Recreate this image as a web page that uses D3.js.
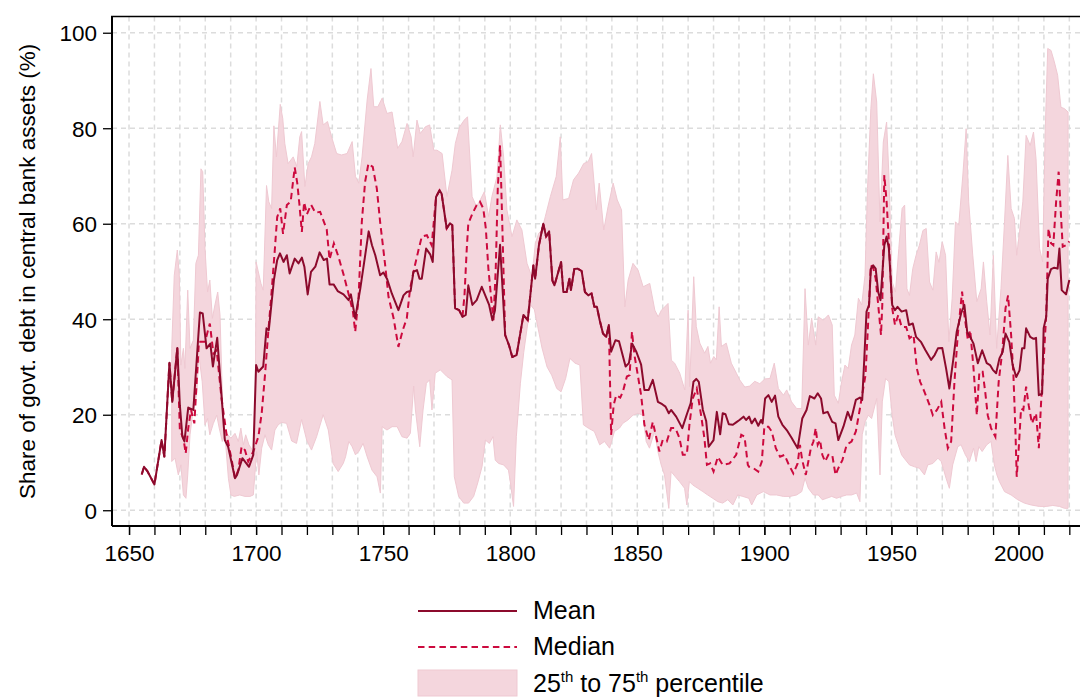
<!DOCTYPE html>
<html><head><meta charset="utf-8">
<script src="https://cdn.jsdelivr.net/npm/d3@7"></script>
<style>body{margin:0;background:#fff}svg{display:block}text{font-family:"Liberation Sans",Arial,sans-serif}</style>
</head><body><svg id="c" width="1080" height="699"></svg>
<script>
const meanData=[[1655,7.5],[1655.9,9.1],[1657.2,8.2],[1660,5.4],[1662.8,14.7],[1663.9,11.2],[1665.9,30.9],[1667,22.7],[1669,34.0],[1670,22.0],[1671,15.4],[1671.8,14.4],[1673.3,21.5],[1675.3,21.0],[1677.9,41.4],[1679,41.2],[1680.5,33.9],[1682,34.9],[1683,30.1],[1684.7,36.1],[1687.7,14.7],[1689,13.3],[1691.7,6.7],[1692.5,7.4],[1694.6,10.9],[1697.2,9.1],[1698.9,11.6],[1700,30.4],[1700.9,29.0],[1702.8,30.1],[1704.1,38.1],[1705,37.7],[1707,48.2],[1708.3,52.4],[1709.4,53.8],[1710.8,52.0],[1712.1,53.4],[1713.2,49.6],[1715.2,52.7],[1716.7,51.7],[1718,52.9],[1719,51.0],[1720.3,45.2],[1721.6,49.9],[1723.3,51.0],[1725,54.0],[1726.6,52.4],[1727.9,52.7],[1728.9,47.3],[1730.5,47.3],[1732.1,45.9],[1734.4,45.2],[1736.4,44.0],[1737.3,45.2],[1739,40.2],[1741,46.4],[1744.3,58.4],[1745.6,55.5],[1746.9,53.4],[1748.8,49.2],[1750.1,49.8],[1751.5,48.5],[1753.4,45.4],[1756,41.9],[1758,45.0],[1759.3,45.7],[1760.8,45.9],[1761.9,49.9],[1763.3,50.3],[1764.3,48.5],[1765.2,48.5],[1766.9,54.8],[1768.5,53.6],[1769.5,52.0],[1770.8,65.6],[1772.2,67.0],[1773,66.3],[1775,59.0],[1776.3,60.1],[1777.2,59.7],[1778.3,42.3],[1779.9,41.9],[1781.2,40.5],[1782.5,40.9],[1783.5,47.1],[1785.1,43.0],[1786.8,44.0],[1788.8,46.8],[1791.7,43.0],[1793,39.8],[1794,41.9],[1796,55.6],[1798,36.7],[1799.5,34.6],[1800.8,32.1],[1802.5,32.5],[1805.2,40.9],[1806.9,39.8],[1809.1,51.3],[1809.8,48.5],[1811.3,55.5],[1813,60.0],[1814.1,57.3],[1815.3,58.4],[1816.6,48.1],[1817.4,47.1],[1818.9,49.9],[1820,52.0],[1820.9,45.7],[1822.2,45.7],[1823.3,48.5],[1823.9,46.1],[1825.2,50.5],[1826.5,50.6],[1828.1,50.1],[1829.4,45.7],[1830.7,45.0],[1832,45.4],[1833.1,42.6],[1834.1,42.6],[1835.2,39.8],[1836.5,37.0],[1837.8,36.3],[1838.8,38.8],[1839.7,33.2],[1841.4,35.6],[1842.8,35.4],[1845.4,30.1],[1846.7,30.8],[1848,34.9],[1849.6,33.2],[1851.5,30.5],[1852.8,25.2],[1854.5,25.2],[1856.1,27.3],[1858.1,22.7],[1859.8,22.2],[1861.1,21.7],[1862.4,20.3],[1863.3,21.0],[1865.3,19.6],[1867.7,17.2],[1869.5,20.1],[1871,22.4],[1872.1,26.9],[1873.2,27.5],[1874.2,26.9],[1875.8,21.0],[1877.1,18.7],[1878.1,13.3],[1880,14.7],[1881.3,20.6],[1882.6,15.9],[1883.6,20.3],[1884.7,20.1],[1886,18.0],[1887.6,17.9],[1888.9,18.4],[1890.2,18.9],[1891.8,19.6],[1892.8,18.9],[1894,19.6],[1895,18.2],[1896.3,19.2],[1897.6,17.7],[1898.7,18.9],[1899.3,18.2],[1900.3,23.4],[1901.6,24.1],[1902.9,22.7],[1904.2,24.0],[1905.5,19.6],[1907.1,17.9],[1908.8,16.8],[1910.7,15.2],[1912,14.0],[1913.1,13.0],[1914.9,19.2],[1916.6,21.0],[1917.9,23.9],[1919.7,23.4],[1921,24.5],[1922.3,23.4],[1923.2,20.3],[1924.9,20.6],[1926.7,18.5],[1928,18.2],[1929.1,14.7],[1931.1,17.5],[1932.8,20.6],[1934.1,18.9],[1936,23.1],[1937.6,23.6],[1938.5,23.1],[1939.3,31.5],[1940.2,41.6],[1941.2,43.0],[1941.9,50.6],[1942.8,51.3],[1943.8,50.6],[1944.8,45.7],[1945.7,44.0],[1947.2,55.5],[1948.1,57.3],[1949,54.8],[1950.3,43.0],[1951.4,41.9],[1952.4,42.6],[1954,41.6],[1955.8,41.9],[1956.9,38.8],[1958.4,39.1],[1959.7,36.3],[1961.7,35.2],[1963.4,33.5],[1965.6,31.5],[1967,32.5],[1968.3,33.9],[1970,34.0],[1971.5,29.7],[1972.8,25.5],[1974.4,31.8],[1975.7,37.4],[1977.4,41.2],[1978.7,43.0],[1979.8,37.4],[1981,36.3],[1982.3,34.9],[1984,30.8],[1985.7,33.5],[1987.5,30.8],[1988.8,30.4],[1989.9,29.4],[1991.2,28.7],[1992.5,31.8],[1993.8,33.2],[1994.9,37.0],[1996.4,35.2],[1997.7,30.4],[1999.1,27.9],[2000.4,29.3],[2001.4,33.9],[2002.3,33.9],[2003,38.1],[2004.6,36.3],[2005.9,35.9],[2006.9,36.1],[2008,24.1],[2009.3,24.4],[2009.9,38.1],[2010.9,40.5],[2011.5,48.5],[2012.8,50.5],[2014.1,50.8],[2015.4,50.6],[2016.1,54.8],[2017,46.1],[2018.7,45.2],[2020,48.2]];

const medianData=[[1655,7.5],[1655.9,9.1],[1657.2,8.2],[1660,5.4],[1662.8,14.7],[1663.9,11.2],[1665.9,30.9],[1667,22.7],[1669,34.0],[1670,16.8],[1671.4,15.1],[1672.3,11.9],[1673.3,17.2],[1674.4,21.0],[1675.7,18.2],[1677,30.4],[1677.5,35.3],[1679.9,35.3],[1681.8,39.1],[1683.2,32.8],[1684.5,33.5],[1686.4,23.4],[1688.4,15.8],[1690.4,10.5],[1691.7,6.7],[1693,8.4],[1694.3,13.3],[1695.6,12.6],[1696.9,10.2],[1698.9,12.3],[1700.9,15.4],[1702.2,20.3],[1703.5,28.3],[1704.8,37.4],[1706.1,45.7],[1707.4,54.8],[1708.3,61.4],[1709.5,63.2],[1710.6,57.9],[1712.1,63.9],[1713.6,64.6],[1715.2,71.8],[1716.2,68.5],[1717,64.3],[1718,58.3],[1718.9,64.5],[1720,62.0],[1721.6,64.0],[1723.3,62.3],[1725.2,62.5],[1727.8,58.8],[1728.9,52.5],[1730.6,55.9],[1732.4,53.1],[1734.4,49.4],[1736.3,45.5],[1738.1,41.6],[1739,37.4],[1740.3,44.4],[1741.6,60.4],[1742.9,68.8],[1744.2,72.6],[1745.9,71.9],[1747.5,67.4],[1748.8,60.4],[1750.8,51.3],[1752.1,44.7],[1754.1,40.2],[1756,34.2],[1757.7,37.7],[1759.3,40.2],[1760.6,46.4],[1762.2,50.6],[1763.9,54.5],[1765.2,57.3],[1767.2,57.6],[1769.1,55.5],[1770.8,65.6],[1772.2,67.0],[1773,66.3],[1775,59.0],[1776.3,60.1],[1777.2,59.7],[1778.3,42.3],[1779.9,41.9],[1781.2,40.5],[1782,45.0],[1782.9,54.8],[1783.5,60.0],[1785.1,62.1],[1786.8,63.9],[1788.1,64.6],[1789.4,63.2],[1790.4,59.0],[1791.4,50.6],[1792.5,44.4],[1793.4,39.8],[1794.3,50.6],[1795.1,67.4],[1796,76.4],[1796.6,65.3],[1797.3,51.3],[1798,36.7],[1799.5,34.6],[1800.8,32.1],[1802.5,32.5],[1805.2,40.9],[1806.9,39.8],[1809.1,51.3],[1809.8,48.5],[1811.3,55.5],[1813,60.0],[1814.1,57.3],[1815.3,58.4],[1816.6,48.1],[1817.4,47.1],[1818.9,49.9],[1820,52.0],[1820.9,45.7],[1822.2,45.7],[1823.3,48.5],[1823.9,46.1],[1825.2,50.5],[1826.5,50.6],[1828.1,50.1],[1829.4,45.7],[1830.7,45.0],[1832,45.4],[1833.1,42.6],[1834.1,42.6],[1835.2,39.8],[1836.5,37.0],[1837.8,36.3],[1838.8,38.8],[1839.7,15.8],[1840.7,22.0],[1841.7,24.1],[1843.3,23.6],[1844.3,24.8],[1845.9,28.0],[1847,28.3],[1847.9,37.4],[1848.9,32.4],[1850.2,28.3],[1851.5,24.1],[1852.8,17.9],[1854.5,14.7],[1856.1,18.5],[1857.4,15.4],[1858.7,12.3],[1860,14.7],[1861.6,14.4],[1863.3,17.2],[1865,17.2],[1866.6,15.1],[1867.9,11.6],[1869.5,11.6],[1870.5,17.9],[1871.8,23.4],[1873.4,25.5],[1875.1,19.9],[1876.4,15.1],[1877.4,9.5],[1878.7,9.8],[1880,8.1],[1881.7,11.2],[1883.6,9.5],[1886.3,9.8],[1888.9,11.6],[1890.9,15.8],[1892.2,15.4],[1893.5,9.5],[1894,9.1],[1895.7,8.8],[1897.6,8.1],[1899,10.2],[1900,17.5],[1901.6,17.5],[1902.9,16.5],[1904.5,13.0],[1906.2,11.2],[1907.9,11.6],[1909.4,9.8],[1911.4,7.7],[1913.1,9.8],[1914,13.7],[1914.9,10.5],[1916.3,7.4],[1917.3,10.2],[1918.3,13.0],[1919.3,14.4],[1920.2,17.2],[1921,13.7],[1921.9,14.7],[1922.8,11.6],[1923.9,10.2],[1925.2,11.6],[1926.7,11.6],[1928,7.4],[1929.1,8.8],[1930.7,10.5],[1932.4,13.7],[1934.3,14.4],[1936,16.5],[1937.6,21.3],[1938.9,25.5],[1939.8,28.3],[1940.8,38.8],[1941.9,51.3],[1942.9,50.6],[1943.8,48.5],[1944.8,43.0],[1945.9,36.7],[1946.4,43.0],[1947.2,70.2],[1948.1,64.6],[1949,56.2],[1950.3,42.3],[1951.4,38.8],[1952.7,40.9],[1954,38.4],[1955.8,38.4],[1957.1,36.0],[1958.7,36.7],[1960,29.7],[1961.3,26.9],[1963,24.8],[1965,22.0],[1966.3,19.9],[1967.9,21.0],[1969.6,22.7],[1970.9,17.2],[1972.2,13.0],[1973.5,14.4],[1974.8,26.9],[1976.1,36.7],[1977.8,45.8],[1978.7,40.9],[1980.1,35.6],[1981,37.7],[1982.3,29.7],[1983.6,19.9],[1984.6,29.0],[1985.9,29.0],[1986.9,24.8],[1987.9,19.9],[1989.2,17.2],[1990.9,15.4],[1992.2,26.9],[1993.6,33.2],[1994.9,42.3],[1995.9,45.0],[1997.1,36.7],[1998,28.3],[1998.8,16.5],[1999.3,7.0],[2000.1,13.0],[2001,21.3],[2001.9,21.0],[2003,25.9],[2004,22.0],[2005.3,18.2],[2006.9,20.3],[2008,13.0],[2008.9,22.7],[2009.8,30.4],[2010.9,40.9],[2011.8,59.0],[2012.8,55.9],[2013.7,55.5],[2014.8,64.6],[2015.8,70.9],[2016.7,61.8],[2017.4,55.2],[2018.7,55.5],[2020,56.3]];

const p75Data=[[1666.8,33.9],[1667.8,49.2],[1669,54.5],[1669.8,49.2],[1670.4,30.4],[1671.4,33.9],[1672,29.7],[1673.1,46.1],[1674,33.9],[1675.3,35.6],[1676.3,51.7],[1677.3,53.4],[1678.3,71.5],[1679,70.9],[1679.9,54.8],[1680.9,45.7],[1681.8,48.2],[1682.8,40.2],[1683.8,43.0],[1684.9,45.7],[1685.8,40.9],[1687.1,17.2],[1688.4,16.1],[1690.1,15.1],[1691.7,16.1],[1693,14.4],[1694,17.2],[1695,13.7],[1695.9,15.8],[1697.2,13.7],[1698.9,12.3],[1699.6,12.5],[1700,52.0],[1701.9,47.5],[1702.8,46.1],[1704.1,68],[1705,64.6],[1706.1,63.2],[1707,80.5],[1708,74],[1709.5,85],[1710.5,82],[1711.3,76.8],[1712.6,72.6],[1714.6,74.0],[1716,72.0],[1717.2,78.2],[1717.9,79.3],[1719.2,67.8],[1720.5,72.6],[1721.8,74.0],[1723.1,76.8],[1725.1,85.6],[1726.4,80.7],[1728.1,81.4],[1729.7,78.2],[1731.7,74.7],[1733.6,74.4],[1735.8,74.7],[1737.8,77.2],[1739.1,69.9],[1740.4,68.5],[1741.7,74.0],[1743.7,85.9],[1745.2,92.5],[1746.3,84.5],[1747.9,84.5],[1749.6,86.3],[1751.5,83.1],[1753.5,83.4],[1755.7,75.8],[1757.4,77.2],[1759.4,81.0],[1761,78.2],[1761.8,74.0],[1763.3,81.7],[1764.6,78.9],[1766.6,80.3],[1768.3,80.7],[1769.9,75.4],[1771.2,75.4],[1773.2,74.7],[1775.1,65.7],[1777.1,71.2],[1778.4,76.8],[1780.1,80.3],[1781.9,81.7],[1783.2,82.4],[1785,65.7],[1786.7,63.6],[1788.2,65.0],[1789.8,66.7],[1791.5,61.5],[1792.8,65.7],[1794.8,69.9],[1796.1,80.7],[1797.4,74.0],[1798.7,62.9],[1800.7,57.3],[1802.6,60.8],[1804.6,58.7],[1806.6,51.7],[1808.5,48.9],[1809.9,55.9],[1811.2,58.0],[1812.5,58.7],[1813.8,61.5],[1815.8,65.7],[1818.1,69.9],[1819.7,78.2],[1820.7,65.0],[1823,65.3],[1824.9,69.2],[1826.9,70.6],[1828.9,72.6],[1830.7,73.0],[1832,74.7],[1833.9,62.9],[1835,68.5],[1836.8,58.7],[1838.5,63.6],[1840.5,68.5],[1842.1,65.0],[1843.8,62.9],[1845.1,42.6],[1846.4,48.2],[1848.3,51.7],[1850.3,50.3],[1852.3,46.8],[1854.9,47.5],[1856.9,41.9],[1858.2,40.5],[1859.5,41.9],[1862.1,43.3],[1863.4,31.4],[1864.7,30.8],[1866.7,28.7],[1868.7,25.2],[1870,41.9],[1870.6,25.9],[1872.2,48.9],[1873.2,38.5],[1874.6,35.0],[1876.5,32.9],[1877.8,34.3],[1878.8,30.8],[1880.1,32.2],[1881.1,31.5],[1882.2,42.6],[1883.1,34.3],[1885,35.0],[1887,30.8],[1889,28.7],[1890.3,27.3],[1892.3,25.8],[1894.2,26],[1896.2,27],[1898.2,26.5],[1900.2,27.5],[1902.2,27.6],[1903.9,30.8],[1905.5,25.5],[1907.5,24.1],[1908.8,25.2],[1910.7,22.7],[1912.7,21.3],[1914.7,21.3],[1916,46.4],[1917.3,34.6],[1918.6,40.2],[1920.2,34.6],[1921.2,40.5],[1923.2,39.8],[1925.2,40.9],[1926.7,38.8],[1927.5,24.1],[1929.1,22.4],[1930.4,26.9],[1931.7,30.4],[1933,29.7],[1934.3,34.6],[1935.6,36.7],[1937,44.4],[1938.3,43.0],[1939.6,49.2],[1940.6,67.4],[1941.9,84.1],[1942.9,91.4],[1944.2,85.5],[1945.5,60.4],[1946.8,77.1],[1948.1,81.3],[1949,70.2],[1950.3,47.8],[1951.6,45.7],[1952.9,54.8],[1954.2,63.2],[1955.2,63.9],[1956.1,46.4],[1957.1,45.0],[1958.4,50.6],[1959.7,53.4],[1961,55.5],[1962.4,58.6],[1963.7,59.0],[1965,47.8],[1966.3,46.1],[1967.6,54.1],[1968.7,51.9],[1970,56.2],[1971.3,53.4],[1972.6,35.3],[1973.9,44.4],[1975.2,60.4],[1976.5,59.7],[1978.1,70.2],[1979.4,79.9],[1980.4,64.6],[1982,53.4],[1983.6,43.7],[1985.3,46.4],[1986.2,52.0],[1987.5,43.7],[1988.8,36.7],[1990.1,53.4],[1991.4,33.9],[1993.1,46.4],[1994.5,60.4],[1995.8,74.3],[1997.1,63.2],[1998.4,61.1],[1999.3,53.4],[2000.4,58.3],[2001.7,64.6],[2003,78.5],[2004.6,76.4],[2005.9,79.2],[2006.9,73.6],[2008.3,54.8],[2009.5,52.0],[2010.5,79.2],[2011.5,96.7],[2012.8,96.3],[2014.1,93.9],[2015.4,91.1],[2016.7,84.4],[2018.1,84.1],[2019.5,83.4]];

const p25Data=[[1666.8,10.2],[1668.1,10.9],[1669.4,7.4],[1670.4,9.5],[1671.4,3.2],[1672.4,2.5],[1673.1,7.4],[1674,15.8],[1675.3,21.3],[1676.6,24.1],[1677.5,32.5],[1678.8,26.9],[1679.9,17.9],[1680.9,19.2],[1681.8,15.8],[1683.2,18.2],[1684.5,19.9],[1685.5,17.2],[1686.7,14.4],[1687.7,16.1],[1689.1,6.7],[1690.1,3.2],[1691.4,2.9],[1693.6,3.2],[1695.6,2.9],[1697.6,2.9],[1698.9,3.2],[1699.5,7.4],[1700.2,12.3],[1701.1,7.4],[1702.2,13.0],[1703.5,15.8],[1704.8,13.7],[1706.1,12.6],[1707.4,16.8],[1708.7,17.9],[1710,18.4],[1712,18.2],[1714,14.5],[1715.9,14.0],[1717.9,19],[1719.9,14.7],[1721.8,12.6],[1723.8,15.4],[1726.4,20.0],[1728.4,16.8],[1730.3,9.8],[1732.3,8.1],[1734.3,9.8],[1735.2,11.2],[1736.5,14.4],[1737.8,13.3],[1739.1,11.6],[1740.4,12.3],[1742.1,14.0],[1743.7,11.2],[1745.6,8.4],[1747.6,7.0],[1748.9,3.6],[1749.6,17.5],[1751.5,16.8],[1753.5,17.5],[1755.5,17.5],[1757.4,15.4],[1759.4,15.1],[1760.7,16.1],[1762,26],[1762.7,21.0],[1764.4,13.3],[1765.7,21.0],[1767,26.6],[1768.3,27.3],[1769.2,21.0],[1770.5,28.7],[1772.5,29.4],[1775.1,28.0],[1777.1,27.3],[1778,7.0],[1779.7,2.9],[1781.7,1.5],[1783.6,1.5],[1785.6,2.9],[1787.2,5.7],[1788.9,9.1],[1790.2,14.7],[1791.8,14.0],[1793.2,15.4],[1794.1,10.5],[1795.4,9.8],[1797.4,9.5],[1799.3,8.4],[1800.1,5.7],[1801.3,0.8],[1802.4,15.4],[1804,26.6],[1805.3,33],[1806.6,38],[1808,43],[1809.5,42],[1811,38],[1812.5,34],[1814.5,30],[1816.3,28.3],[1818.3,25.5],[1820,24.8],[1821.8,27.6],[1823.5,31.8],[1825.5,30.8],[1827.4,30.4],[1828.8,17.9],[1830.7,17.2],[1833.1,16.5],[1835.2,13.7],[1837.1,14.4],[1839.1,13.0],[1841,16.5],[1843,17.2],[1844.3,18.2],[1846.3,18.9],[1848.3,19.9],[1850.2,20.3],[1852.2,19.9],[1853.5,14.4],[1854.8,13.0],[1856.8,16.5],[1858.1,12.3],[1859.4,9.5],[1860.7,7.4],[1862.4,0.4],[1863.3,8.1],[1865,7.0],[1866.6,6.0],[1868.6,4.6],[1869.5,1.1],[1870.5,6.0],[1871.8,5.3],[1873.8,4.6],[1875.8,3.9],[1877.7,3.2],[1879.7,2.5],[1881.7,1.8],[1883.6,1.5],[1885.6,2.2],[1887.6,1.1],[1889.5,3.2],[1891.5,2.9],[1893.9,2.5],[1895,1.1],[1897,3.2],[1899.6,3.9],[1902.2,3.2],[1904.8,3.2],[1907.5,2.9],[1910.1,2.9],[1912.7,3.2],[1914.7,3.9],[1916,6.7],[1917.3,4.6],[1919.3,3.2],[1921.2,3.2],[1922.8,2.2],[1924.5,2.5],[1926.5,2.9],[1928.4,2.5],[1930.4,2.9],[1932.4,3.2],[1934.3,3.2],[1936.3,3.6],[1937.6,1.8],[1938.5,15.8],[1939.6,18.5],[1940.9,19.9],[1942.2,19.2],[1944.2,23.4],[1945.5,7.4],[1946.4,22.7],[1947.7,27.6],[1949,26.9],[1950.3,19.9],[1951.4,15.8],[1952.7,13.7],[1954,11.6],[1955,10.9],[1957.1,9.5],[1959.1,9.1],[1961,8.8],[1963,7.4],[1964.3,9.5],[1966.3,9.8],[1968.3,10.9],[1969.6,10.2],[1971.5,6.7],[1972.8,4.6],[1974.1,9.5],[1976.1,13.3],[1977.4,13.7],[1979.1,11.6],[1980.7,10.2],[1982.3,13.0],[1983.3,10.2],[1984.4,13.3],[1985.7,12.3],[1987.5,13.7],[1989.2,14.4],[1990.5,9.5],[1991.5,7.4],[1992.5,6.0],[1994.5,3.9],[1997.1,3.2],[1999.7,2.2],[2002.3,1.5],[2005,1.1],[2008.2,0.8],[2010.9,0.8],[2013.5,1.0],[2016.1,0.8],[2018.1,0.4],[2019.5,0.4]];

const xMajorTicks=[1650,1700,1750,1800,1850,1900,1950,2000];
const xMinorTicks=d3.range(1650,2021,10);
const yTicks=[0,20,40,60,80,100];
const yTitle="Share of govt. debt in central bank assets (%)";
const legendLabels=["Mean","Median"];

const C={mean:"#8c0a2c",median:"#cc0a3e",band:"#f4d6dd",bandEdge:"#efc9d2",grid:"#dcdcdc"};
const FS=22.5, LFS=25;
const svg=d3.select("#c");
const x=d3.scaleLinear().domain([1643.3,2024.2]).range([112,1080]);
const y=d3.scaleLinear().domain([-3.3,103.4]).range([526,16.5]);

// grid
svg.append("g").selectAll("line").data(yTicks).join("line")
 .attr("x1",112).attr("x2",1080).attr("y1",d=>y(d)).attr("y2",d=>y(d))
 .attr("stroke",C.grid).attr("stroke-width",1.5).attr("stroke-dasharray","5,4");
svg.append("g").selectAll("line").data(xMinorTicks).join("line")
 .attr("y1",16.5).attr("y2",526).attr("x1",d=>x(d)).attr("x2",d=>x(d))
 .attr("stroke",C.grid).attr("stroke-width",1.5).attr("stroke-dasharray","5,4");

// band
const ln=d3.line().x(d=>x(d[0])).y(d=>y(d[1]));
const poly=p75Data.concat(p25Data.slice().reverse());
svg.append("path").attr("d",ln(poly)+"Z")
 .attr("fill",C.band).attr("stroke",C.bandEdge).attr("stroke-width",1);

svg.append("path").attr("d",ln(medianData)).attr("fill","none")
 .attr("stroke",C.median).attr("stroke-width",2).attr("stroke-dasharray","6.5,4.2");
svg.append("path").attr("d",ln(meanData)).attr("fill","none")
 .attr("stroke",C.mean).attr("stroke-width",2).attr("stroke-linejoin","round");

// frame
svg.append("line").attr("x1",111).attr("x2",1080).attr("y1",16.5).attr("y2",16.5).attr("stroke","#000").attr("stroke-width",1.5);

// axes
const xAxis=svg.append("g").attr("transform","translate(0,526)");
xAxis.call(d3.axisBottom(x).tickValues(xMinorTicks).tickSize(9).tickFormat(""));
xAxis.append("g").call(d3.axisBottom(x).tickValues(xMajorTicks).tickSize(9).tickFormat(d3.format("d")));
xAxis.selectAll(".domain").attr("stroke-width",2).attr("d","M112,0H1080");
xAxis.selectAll("line").attr("stroke-width",1.3);
xAxis.selectAll("text").attr("font-size",FS).attr("fill","#000").attr("dy","1.0em")
 .attr("font-family","Liberation Sans, Arial, sans-serif");

const yAxis=svg.append("g").attr("transform","translate(112,0)");
yAxis.call(d3.axisLeft(y).tickValues(yTicks).tickSize(9).tickPadding(6));
yAxis.selectAll(".domain").attr("stroke-width",2).attr("d","M0,16.5V526");
yAxis.selectAll("line").attr("stroke-width",1.3);
yAxis.selectAll("text").attr("font-size",FS).attr("fill","#000").attr("dy","0.36em")
 .attr("font-family","Liberation Sans, Arial, sans-serif");

svg.append("text").attr("transform","translate(35,"+y(50)+") rotate(-90)")
 .attr("text-anchor","middle").attr("font-size",FS).text(yTitle);

// legend
const lg=svg.append("g");
lg.append("line").attr("x1",418).attr("x2",517).attr("y1",611).attr("y2",611).attr("stroke",C.mean).attr("stroke-width",2);
lg.append("line").attr("x1",418).attr("x2",517).attr("y1",647).attr("y2",647).attr("stroke",C.median).attr("stroke-width",2).attr("stroke-dasharray","6.5,4.2");
lg.append("rect").attr("x",418).attr("y",670).attr("width",99).attr("height",26).attr("fill",C.band).attr("stroke",C.bandEdge);
lg.append("text").attr("x",533).attr("y",619).attr("font-size",LFS).text(legendLabels[0]);
lg.append("text").attr("x",533).attr("y",655).attr("font-size",LFS).text(legendLabels[1]);
const t3=lg.append("text").attr("x",533).attr("y",692).attr("font-size",LFS);
t3.append("tspan").text("25");
t3.append("tspan").attr("font-size",15).attr("dy",-10).text("th");
t3.append("tspan").attr("dy",10).text(" to 75");
t3.append("tspan").attr("font-size",15).attr("dy",-10).text("th");
t3.append("tspan").attr("dy",10).text(" percentile");
</script></body></html>
